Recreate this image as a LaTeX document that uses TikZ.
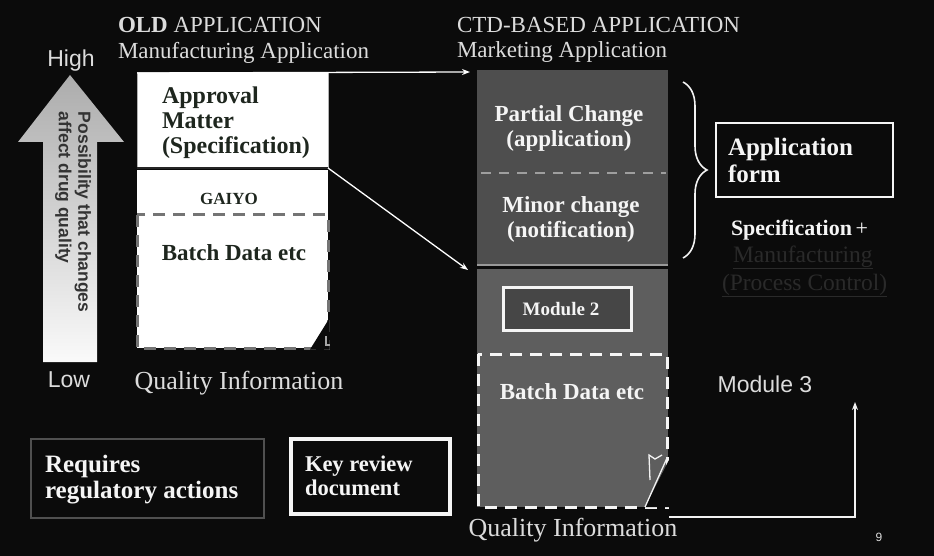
\documentclass[tikz,border=0pt]{standalone}
\usepackage{fontspec}
\setmainfont{Liberation Serif}
\newfontfamily\arialfont{Liberation Sans}
\usetikzlibrary{arrows.meta,decorations.pathreplacing}

\definecolor{bgcol}{HTML}{0B0B0B}
\definecolor{titlecol}{HTML}{DCDCDC}
\definecolor{darktext}{HTML}{1E261E}
\definecolor{oldline}{HTML}{747474}
\definecolor{newtop}{HTML}{4E4E4E}
\definecolor{newlow}{HTML}{5E5E5E}
\definecolor{modfill}{HTML}{464646}
\definecolor{faint}{HTML}{2A2A2A}
\definecolor{regbox}{HTML}{505050}

\newcommand{\fs}[1]{\fontsize{#1}{#1}\selectfont}

\tikzset{
  lbl/.style={inner sep=0pt, outer sep=0pt},
  hdr/.style={lbl, anchor=base west, text=titlecol, font=\fs{23}},
  boxtxt/.style={lbl, font=\bfseries\fs{23}, align=center},
  whitetxt/.style={boxtxt, text=white!92!gray},
  conn/.style={draw=white, line width=1.3pt, -{Stealth[length=8pt,width=6pt]}},
  olddash/.style={draw=oldline, line width=3pt, dash pattern=on 12pt off 8pt},
  newdash/.style={draw=white!92!gray, line width=3pt, dash pattern=on 12pt off 8pt},
}

\begin{document}
\begin{tikzpicture}[x=1pt,y=-1pt]
% canvas
\fill[bgcol] (0,0) rectangle (934,556);
\useasboundingbox (0,0) rectangle (934,556);

% ---------- scale arrow (High / Low) ----------
\shade[top color=gray!65!white, bottom color=white!96!gray]
  (70,75) -- (124,142) -- (97,142) -- (97,362) -- (43,362) -- (43,142) -- (18,142) -- cycle;
\node[lbl, rotate=-90, anchor=north west, align=left, text=black!80,
      font=\arialfont\bfseries\fs{17.5}] (scaletxt) at (91,112)
  {Possibility that changes\\[2pt]affect drug quality};
\node[lbl, font=\arialfont\fs{23}, text=titlecol] (high) at (71,61) {High};
\node[lbl, font=\arialfont\fs{23}, text=titlecol] (low) at (69,380) {Low};

% ---------- old application ----------
\node[hdr] (oldtitle) at (118,33) {\textbf{OLD} APPLICATION};
\node[hdr] (oldsub) at (118,59) {Manufacturing Application};

\node[lbl, fill=white, draw=gray!60, line width=1pt, minimum width=191pt, minimum height=95pt]
  (approval) at (232.5,120.5) {};
\node[lbl, fill=white, minimum width=191pt, minimum height=178pt] (gaiyobox) at (232.5,259) {};
\draw[black!85, line width=2pt] (approval.south west) -- (approval.south east);
\node[boxtxt, anchor=west, align=left, text=darktext, font=\bfseries\fs{24}] (approvaltxt)
  at (162,123) {Approval\\[1pt]Matter\\[1pt](Specification)};
\node[boxtxt, text=darktext, font=\bfseries\fs{17}] (gaiyo) at (229,199) {GAIYO};
\node[lbl, minimum width=191pt, minimum height=133pt] (oldbatch) at (232.5,281.5) {};
\draw[olddash] (oldbatch.north west) rectangle (oldbatch.south east);
\node[boxtxt, text=darktext] (oldbatchtxt) at (234,253) {Batch Data etc};
% folded corner of the batch data sheet
\fill[bgcol] (310,349.5) -- (329.6,349.5) -- (329.6,318) -- cycle;
\draw[gray!70, line width=1.5pt] (326,336) -- (326,345) -- (330,345);
\node[lbl, font=\fs{26}, text=titlecol] (oldqi) at (239,383) {Quality Information};

% ---------- CTD-based application ----------
\node[hdr] (newtitle) at (457,33) {CTD-BASED APPLICATION};
\node[hdr] (newsub) at (457,58) {Marketing Application};

\node[lbl, fill=newtop, minimum width=191pt, minimum height=194pt] (changes) at (572.5,167) {};
\draw[gray!75, line width=2pt, dash pattern=on 10pt off 8pt] (481,173) -- (666,173);
\draw[gray!80, line width=1.5pt] ([yshift=-1pt]changes.south west) -- ([yshift=-1pt]changes.south east);
\node[whitetxt] (partial) at (569,128) {Partial Change\\[2pt](application)};
\node[whitetxt] (minor) at (571,219) {Minor change\\[2pt](notification)};

\node[lbl, fill=newlow, minimum width=191pt, minimum height=238pt] (lower) at (572.5,388) {};
\node[lbl, fill=modfill, draw=white!92!gray, line width=3.5pt, minimum width=128pt, minimum height=43pt]
  (module2) at (567.5,309) {};
\node[whitetxt, font=\bfseries\fs{19}] (module2txt) at (561,309) {Module 2};
\node[lbl, minimum width=189pt, minimum height=153pt] (newbatch) at (572.5,430.5) {};
\draw[newdash] (newbatch.north west) rectangle (newbatch.south east);
\node[whitetxt] (newbatchtxt) at (572,392) {Batch Data etc};
% folded corner of the batch data sheet
\fill[bgcol] (645,507) -- (669,507) -- (669,460) -- cycle;
\draw[white!90!gray, line width=1.3pt] (645,507) -- (667,458);
\draw[white!90!gray, line width=1.3pt] (650,480) -- (649,455) -- (655,459) -- (662,455);
\node[lbl, font=\fs{26}, text=titlecol] (newqi) at (573,530) {Quality Information};

% ---------- connectors ----------
\coordinate (toptarget) at (470,72);
\coordinate (lowtarget) at (468,270);
\draw[conn] (approval.north west) -- (toptarget);
\draw[conn] (approval.south east) -- (lowtarget);

% brace grouping the application form parts
\coordinate (bracetop) at (683,82);
\coordinate (bracebot) at (683,258);
\draw[white!90!gray, line width=1.6pt, decorate,
      decoration={brace, amplitude=24pt}] (bracetop) -- (bracebot);

\node[lbl, draw=white!92!gray, line width=2.5pt, minimum width=177pt, minimum height=74pt]
  (appform) at (804.5,160) {};
\node[boxtxt, anchor=west, align=left, text=white!92!gray, font=\bfseries\fs{25}] (appformtxt)
  at (728,160) {Application\\[2pt]form};

\node[lbl, anchor=base west, font=\bfseries\fs{22}, text=white!92!gray] (spec) at (731,236)
  {Specification\,\mdseries+};
\node[lbl, anchor=base west, font=\fs{23.5}, text=faint] (manuf) at (733,262)
  {\underline{Manufacturing}};
\node[lbl, anchor=base west, font=\fs{23.5}, text=faint] (process) at (722,290)
  {\underline{(Process Control)}};

\node[lbl, font=\arialfont\fs{23}, text=titlecol] (module3) at (765,384) {Module 3};
\coordinate (m3start) at (669,517);
\coordinate (m3corner) at (855,517);
\coordinate (m3end) at (855,402);
\draw[white!90!gray, line width=1.5pt, -{Stealth[length=8pt,width=6pt]}]
  (m3start) -- (m3corner) -- (m3end);

% ---------- legend ----------
\node[lbl, draw=regbox, line width=2.5pt, minimum width=233pt, minimum height=79pt]
  (regact) at (147.5,478.5) {};
\node[boxtxt, anchor=west, align=left, text=white!92!gray, font=\bfseries\fs{25}] (regacttxt)
  at (45,480) {Requires\\[1pt]regulatory actions};
\node[lbl, draw=white!92!gray, line width=3.5pt, minimum width=159pt, minimum height=75pt]
  (keyrev) at (370.5,476.5) {};
\node[boxtxt, anchor=west, align=left, text=white!92!gray, font=\bfseries\fs{22.5}] (keyrevtxt)
  at (305,476) {Key review\\[1pt]document};

\node[lbl, font=\arialfont\fs{12}, text=titlecol] (pagenum) at (879,537) {9};
\end{tikzpicture}
\end{document}
